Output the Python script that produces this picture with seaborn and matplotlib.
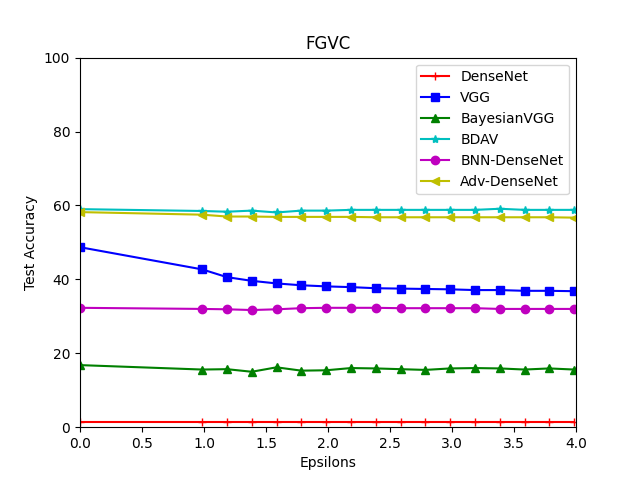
import matplotlib
matplotlib.use("Agg")
import matplotlib.pyplot as plt
import seaborn as sns
import pandas as pd

epsilons = [0.0, 0.985, 1.185, 1.385, 1.585, 1.785, 1.985, 2.185, 2.385, 2.585,
            2.785, 2.985, 3.185, 3.385, 3.585, 3.785, 3.985]

densenet = [1.3, 1.3, 1.3, 1.3, 1.3, 1.3, 1.3, 1.3, 1.3, 1.3, 1.3, 1.3, 1.3, 1.3, 1.3, 1.3, 1.3]
vgg = [48.7, 42.7, 40.6, 39.6, 38.9, 38.4, 38.1, 37.9, 37.6, 37.5, 37.4, 37.3, 37.1, 37.1, 36.9, 36.9, 36.8]
bayesian_vgg = [16.8, 15.6, 15.7, 15.0, 16.2, 15.3, 15.4, 16.0, 15.9, 15.7, 15.5, 15.9, 16.0, 15.9, 15.6, 15.9, 15.6]
bdav = [59.0, 58.5, 58.3, 58.6, 58.1, 58.6, 58.6, 58.8, 58.8, 58.8, 58.8, 58.8, 58.8, 59.1, 58.8, 58.8, 58.8]
bnn_densenet = [32.3, 32.0, 31.9, 31.7, 31.9, 32.2, 32.3, 32.3, 32.3, 32.2, 32.2, 32.2, 32.2, 32.0, 32.0, 32.0, 32.0]
adv_densenet = [58.2, 57.5, 57.0, 57.0, 56.9, 56.9, 56.9, 56.9, 56.8, 56.8, 56.8, 56.8, 56.8, 56.8, 56.8, 56.8, 56.7]

series_names = ["DenseNet", "VGG", "BayesianVGG", "BDAV", "BNN-DenseNet", "Adv-DenseNet"]
series_values = [densenet, vgg, bayesian_vgg, bdav, bnn_densenet, adv_densenet]
colors = ["r", "b", "g", "c", "m", "y"]
markers = ["+", "s", "^", "*", "o", "<"]

plt.rcParams.update(matplotlib.rcParamsDefault)
matplotlib.use("Agg")

fig, ax = plt.subplots(figsize=(6.4, 4.8), dpi=100)

for name, vals, c, m in zip(series_names, series_values, colors, markers):
    df = pd.DataFrame({"eps": epsilons, "acc": vals})
    sns.lineplot(data=df, x="eps", y="acc", ax=ax, color=c, marker=m,
                 markersize=6, markeredgecolor=c, markeredgewidth=1.0,
                 linewidth=1.5, label=name)

for line in ax.lines:
    line.set_clip_on(True)

ax.set_xlim(0, 4)
ax.set_ylim(0, 100)
ax.set_title("FGVC")
ax.set_xlabel("Epsilons")
ax.set_ylabel("Test Accuracy")
ax.legend(loc="upper right")

fig.savefig("out.png", dpi=100)
